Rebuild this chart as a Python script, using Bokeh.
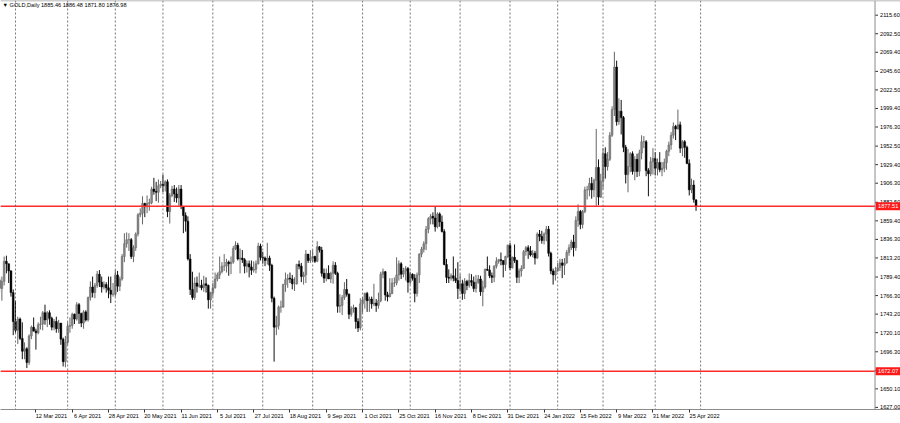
import numpy as np
import pandas as pd
from bokeh.plotting import figure
from bokeh.models import Range1d, FixedTicker, Span, Label, ColumnDataSource
from bokeh.core.properties import value
from bokeh.embed import file_html
from bokeh.resources import INLINE

# ---------------- data (GOLD, Daily) ----------------
# Feb 2021 (from 18 Feb)
o_feb21 = [1786, 1775, 1784, 1809, 1806, 1797, 1770]
h_feb21 = [1789, 1790, 1815, 1816, 1806, 1798, 1774]
l_feb21 = [1770, 1760, 1779, 1794, 1782, 1765, 1717]
c_feb21 = [1775, 1784, 1809, 1806, 1797, 1770, 1734]
# Mar 2021
o_mar21 = [1734, 1723, 1737, 1713, 1697, 1700, 1683, 1716, 1727, 1722, 1720, 1730, 1731, 1745, 1736, 1745, 1738, 1727, 1734, 1725, 1732, 1712, 1684]
h_mar21 = [1760, 1740, 1739, 1733, 1708, 1702, 1718, 1729, 1739, 1725, 1733, 1740, 1747, 1755, 1747, 1748, 1740, 1737, 1740, 1736, 1732, 1714, 1716]
l_mar21 = [1720, 1706, 1711, 1687, 1687, 1676, 1680, 1712, 1722, 1699, 1718, 1724, 1723, 1730, 1727, 1730, 1723, 1723, 1720, 1720, 1705, 1678, 1677]
c_mar21 = [1723, 1737, 1713, 1697, 1700, 1683, 1716, 1727, 1722, 1720, 1730, 1731, 1745, 1736, 1745, 1738, 1727, 1734, 1725, 1732, 1712, 1684, 1708]
# Apr 2021
o_apr21 = [1708, 1728, 1729, 1743, 1737, 1755, 1744, 1732, 1746, 1736, 1764, 1777, 1770, 1779, 1793, 1783, 1777, 1780, 1776, 1773, 1768]
h_apr21 = [1733, 1739, 1745, 1744, 1758, 1757, 1745, 1748, 1748, 1765, 1784, 1790, 1782, 1797, 1798, 1790, 1784, 1783, 1790, 1790, 1782]
l_apr21 = [1705, 1720, 1725, 1731, 1735, 1731, 1727, 1725, 1734, 1734, 1760, 1764, 1763, 1776, 1777, 1770, 1774, 1770, 1763, 1757, 1765]
c_apr21 = [1728, 1729, 1743, 1737, 1755, 1744, 1732, 1746, 1736, 1764, 1777, 1770, 1779, 1793, 1783, 1777, 1780, 1776, 1773, 1768, 1768]
# May 2021
o_may21 = [1768, 1792, 1778, 1787, 1815, 1831, 1836, 1836, 1815, 1826, 1843, 1867, 1869, 1881, 1877, 1881, 1882, 1899, 1896, 1895, 1903]
h_may21 = [1798, 1797, 1790, 1818, 1844, 1845, 1844, 1838, 1829, 1845, 1869, 1875, 1890, 1882, 1891, 1887, 1902, 1913, 1908, 1911, 1909]
l_may21 = [1765, 1771, 1772, 1785, 1808, 1826, 1822, 1812, 1808, 1822, 1840, 1864, 1855, 1864, 1869, 1872, 1880, 1892, 1884, 1882, 1900]
c_may21 = [1792, 1778, 1787, 1815, 1831, 1836, 1836, 1815, 1826, 1843, 1867, 1869, 1881, 1877, 1881, 1882, 1899, 1896, 1895, 1903, 1905]
# Jun 2021
o_jun21 = [1905, 1903, 1908, 1871, 1891, 1899, 1893, 1888, 1899, 1877, 1866, 1859, 1812, 1774, 1764, 1782, 1778, 1779, 1776, 1781, 1779, 1761]
h_jun21 = [1917, 1910, 1911, 1894, 1903, 1904, 1901, 1904, 1904, 1878, 1870, 1865, 1818, 1796, 1789, 1790, 1795, 1786, 1791, 1789, 1780, 1771]
l_jun21 = [1895, 1896, 1864, 1856, 1889, 1883, 1882, 1878, 1874, 1844, 1846, 1810, 1767, 1761, 1761, 1770, 1776, 1773, 1771, 1770, 1750, 1750]
c_jun21 = [1903, 1908, 1871, 1891, 1899, 1893, 1888, 1899, 1877, 1866, 1859, 1812, 1774, 1764, 1782, 1778, 1779, 1776, 1781, 1779, 1761, 1770]
# Jul 2021
o_jul21 = [1770, 1776, 1787, 1792, 1796, 1803, 1803, 1808, 1806, 1808, 1825, 1829, 1812, 1813, 1811, 1803, 1806, 1802, 1798, 1799, 1806, 1828]
h_jul21 = [1782, 1795, 1795, 1815, 1808, 1818, 1812, 1810, 1815, 1828, 1834, 1832, 1825, 1823, 1813, 1810, 1810, 1810, 1809, 1810, 1832, 1831]
l_jul21 = [1765, 1775, 1784, 1787, 1794, 1797, 1795, 1791, 1793, 1806, 1823, 1810, 1794, 1807, 1794, 1795, 1789, 1792, 1795, 1794, 1805, 1810]
c_jul21 = [1776, 1787, 1792, 1796, 1803, 1803, 1808, 1806, 1808, 1825, 1829, 1812, 1813, 1811, 1803, 1806, 1802, 1798, 1799, 1806, 1828, 1814]
# Aug 2021
o_aug21 = [1814, 1813, 1810, 1813, 1804, 1763, 1727, 1729, 1752, 1752, 1780, 1786, 1788, 1787, 1781, 1781, 1805, 1803, 1790, 1792, 1818, 1810]
h_aug21 = [1821, 1815, 1832, 1816, 1806, 1765, 1741, 1754, 1760, 1781, 1795, 1793, 1795, 1792, 1789, 1806, 1810, 1807, 1796, 1823, 1818, 1823]
l_aug21 = [1806, 1803, 1805, 1797, 1758, 1684, 1717, 1724, 1745, 1751, 1771, 1776, 1782, 1774, 1772, 1780, 1799, 1783, 1780, 1782, 1807, 1807]
c_aug21 = [1813, 1810, 1813, 1804, 1763, 1727, 1729, 1752, 1752, 1780, 1786, 1788, 1787, 1781, 1781, 1805, 1803, 1790, 1792, 1818, 1810, 1813]
# Sep 2021
o_sep21 = [1813, 1815, 1809, 1827, 1823, 1794, 1788, 1794, 1787, 1794, 1804, 1794, 1753, 1754, 1764, 1774, 1768, 1743, 1750, 1751, 1734, 1726]
h_sep21 = [1823, 1816, 1834, 1828, 1827, 1800, 1800, 1804, 1796, 1809, 1808, 1796, 1768, 1767, 1783, 1787, 1769, 1753, 1755, 1752, 1738, 1763]
l_sep21 = [1808, 1807, 1808, 1820, 1790, 1782, 1784, 1787, 1782, 1781, 1792, 1745, 1745, 1742, 1761, 1765, 1737, 1740, 1745, 1725, 1721, 1723]
c_sep21 = [1815, 1809, 1827, 1823, 1794, 1788, 1794, 1787, 1794, 1804, 1794, 1753, 1754, 1764, 1774, 1768, 1743, 1750, 1751, 1734, 1726, 1756]
# Oct 2021
o_oct21 = [1756, 1761, 1769, 1760, 1762, 1756, 1757, 1754, 1760, 1793, 1796, 1767, 1765, 1769, 1782, 1782, 1792, 1806, 1793, 1797, 1800]
h_oct21 = [1764, 1770, 1771, 1765, 1765, 1781, 1762, 1770, 1796, 1800, 1797, 1771, 1788, 1788, 1789, 1814, 1810, 1808, 1801, 1803, 1802]
l_oct21 = [1745, 1750, 1746, 1746, 1750, 1753, 1746, 1750, 1758, 1788, 1760, 1759, 1764, 1768, 1777, 1779, 1785, 1787, 1789, 1785, 1770]
c_oct21 = [1761, 1769, 1760, 1762, 1756, 1757, 1754, 1760, 1793, 1796, 1767, 1765, 1769, 1782, 1782, 1792, 1806, 1793, 1797, 1800, 1783]
# Nov 2021
o_nov21 = [1783, 1793, 1788, 1769, 1792, 1818, 1824, 1831, 1849, 1862, 1865, 1863, 1852, 1868, 1858, 1846, 1805, 1789, 1788, 1791, 1788, 1785]
h_nov21 = [1796, 1794, 1793, 1795, 1819, 1827, 1834, 1853, 1864, 1868, 1870, 1877, 1870, 1870, 1866, 1849, 1812, 1799, 1794, 1815, 1800, 1808]
l_nov21 = [1780, 1785, 1758, 1765, 1782, 1814, 1820, 1823, 1844, 1855, 1855, 1846, 1850, 1852, 1845, 1804, 1782, 1782, 1785, 1784, 1782, 1762]
c_nov21 = [1793, 1788, 1769, 1792, 1818, 1824, 1831, 1849, 1862, 1865, 1863, 1852, 1868, 1858, 1846, 1805, 1789, 1788, 1791, 1788, 1785, 1775]
# Dec 2021
o_dec21 = [1775, 1781, 1769, 1784, 1779, 1785, 1783, 1775, 1783, 1787, 1771, 1777, 1799, 1798, 1791, 1789, 1803, 1809, 1811, 1810, 1805, 1815]
h_dec21 = [1793, 1786, 1788, 1786, 1794, 1793, 1790, 1792, 1792, 1791, 1785, 1800, 1815, 1804, 1795, 1804, 1814, 1812, 1820, 1810, 1816, 1830]
l_dec21 = [1771, 1761, 1762, 1773, 1776, 1778, 1771, 1770, 1781, 1766, 1753, 1775, 1797, 1788, 1782, 1783, 1800, 1806, 1804, 1789, 1797, 1813]
c_dec21 = [1781, 1769, 1784, 1779, 1785, 1783, 1775, 1783, 1787, 1771, 1777, 1799, 1798, 1791, 1789, 1803, 1809, 1811, 1810, 1805, 1815, 1829]
# Jan 2022
o_jan22 = [1829, 1801, 1814, 1810, 1789, 1797, 1800, 1821, 1826, 1822, 1817, 1819, 1813, 1843, 1840, 1835, 1843, 1849, 1819, 1797, 1792]
h_jan22 = [1832, 1815, 1830, 1811, 1800, 1804, 1823, 1828, 1829, 1828, 1823, 1822, 1845, 1848, 1847, 1845, 1853, 1853, 1821, 1800, 1802]
l_jan22 = [1798, 1800, 1807, 1782, 1782, 1790, 1800, 1816, 1812, 1815, 1814, 1805, 1812, 1834, 1831, 1830, 1834, 1815, 1793, 1780, 1785]
c_jan22 = [1801, 1814, 1810, 1789, 1797, 1800, 1821, 1826, 1822, 1817, 1819, 1813, 1843, 1840, 1835, 1843, 1849, 1819, 1797, 1792, 1797]
# Feb 2022
o_feb22 = [1797, 1801, 1807, 1804, 1807, 1820, 1826, 1833, 1826, 1860, 1871, 1855, 1871, 1898, 1898, 1906, 1898, 1910, 1926, 1889]
h_feb22 = [1807, 1812, 1812, 1813, 1823, 1830, 1836, 1842, 1865, 1880, 1873, 1873, 1902, 1903, 1913, 1914, 1912, 1974, 1936, 1918]
l_feb22 = [1796, 1797, 1788, 1792, 1806, 1816, 1823, 1815, 1822, 1852, 1849, 1850, 1869, 1886, 1890, 1887, 1889, 1878, 1879, 1888]
c_feb22 = [1801, 1807, 1804, 1807, 1820, 1826, 1833, 1826, 1860, 1871, 1855, 1871, 1898, 1898, 1906, 1898, 1910, 1926, 1889, 1909]
# Mar 2022
o_mar22 = [1909, 1943, 1927, 1936, 1966, 1998, 2051, 1983, 1996, 1988, 1951, 1917, 1927, 1943, 1921, 1936, 1921, 1944, 1958, 1958, 1922, 1918, 1933]
h_mar22 = [1950, 1951, 1945, 1970, 2002, 2070, 2059, 2012, 2010, 1990, 1954, 1949, 1945, 1946, 1940, 1943, 1948, 1966, 1965, 1960, 1925, 1939, 1950]
l_mar22 = [1899, 1912, 1922, 1934, 1964, 1990, 1978, 1979, 1967, 1945, 1906, 1895, 1920, 1917, 1910, 1914, 1915, 1936, 1950, 1915, 1890, 1915, 1917]
c_mar22 = [1943, 1927, 1936, 1966, 1998, 2051, 1983, 1996, 1988, 1951, 1917, 1927, 1943, 1921, 1936, 1921, 1944, 1958, 1958, 1922, 1918, 1933, 1937]
# Apr 2022 (to 28 Apr)
o_apr22 = [1937, 1925, 1932, 1923, 1925, 1932, 1946, 1954, 1966, 1977, 1974, 1979, 1950, 1958, 1951, 1931, 1898, 1904, 1885.46]
h_apr22 = [1945, 1937, 1945, 1933, 1937, 1948, 1958, 1970, 1982, 1979, 1998, 1983, 1960, 1960, 1953, 1936, 1912, 1910, 1886.48]
l_apr22 = [1916, 1916, 1920, 1915, 1920, 1923, 1940, 1948, 1962, 1960, 1973, 1944, 1940, 1938, 1930, 1891, 1894, 1882, 1871.80]
c_apr22 = [1925, 1932, 1923, 1925, 1932, 1946, 1954, 1966, 1977, 1974, 1979, 1950, 1958, 1951, 1931, 1898, 1904, 1886, 1876.98]

opens = sum([o_feb21, o_mar21, o_apr21, o_may21, o_jun21, o_jul21, o_aug21, o_sep21, o_oct21,
             o_nov21, o_dec21, o_jan22, o_feb22, o_mar22, o_apr22], [])
highs = sum([h_feb21, h_mar21, h_apr21, h_may21, h_jun21, h_jul21, h_aug21, h_sep21, h_oct21,
             h_nov21, h_dec21, h_jan22, h_feb22, h_mar22, h_apr22], [])
lows = sum([l_feb21, l_mar21, l_apr21, l_may21, l_jun21, l_jul21, l_aug21, l_sep21, l_oct21,
            l_nov21, l_dec21, l_jan22, l_feb22, l_mar22, l_apr22], [])
closes = sum([c_feb21, c_mar21, c_apr21, c_may21, c_jun21, c_jul21, c_aug21, c_sep21, c_oct21,
              c_nov21, c_dec21, c_jan22, c_feb22, c_mar22, c_apr22], [])

level_hi = 1877.51
level_lo = 1672.07
header = "\u25BC GOLD,Daily  1885.46 1886.48 1871.80 1876.98"
y_ticks = [2115.60, 2092.50, 2069.40, 2045.60, 2022.50, 1999.40, 1976.30, 1952.50, 1929.40,
           1906.30, 1882.50, 1859.40, 1836.30, 1813.20, 1789.40, 1766.30, 1743.20, 1720.10,
           1696.30, 1673.20, 1650.10, 1627.00]

# trading calendar (no bars on these days)
no_bar_days = pd.to_datetime(["2021-04-02", "2021-12-24", "2022-04-15"])
cal = pd.bdate_range("2021-02-18", "2022-05-02")
cal = cal[~cal.isin(no_bar_days)]

n = len(closes)
assert len(opens) == n and len(highs) == n and len(lows) == n, (len(opens), len(highs), len(lows), n)

idx = np.arange(n)
o = np.array(opens, float); h = np.array(highs, float)
l = np.array(lows, float); c = np.array(closes, float)
up = c >= o

# ---------------- layout ----------------
FONT = "Liberation Sans"
FS = "5.6px"
W, H = 900, 423
XS, XB, XE = 0.39, 385.9, 397.13   # left edge / price-scale border / right edge (bar units)
PPB = W / (XE - XS)                # px per bar
COL = (XE - XB) * PPB              # price-scale column width in px
YS, YE = 1624.4, 2133.9

p = figure(width=W, height=H, x_range=Range1d(XS, XE), y_range=Range1d(YS, YE),
           output_backend="svg", toolbar_location=None,
           min_border_left=0, min_border_top=0, min_border_right=0, min_border_bottom=14)
p.background_fill_color = "white"
p.border_fill_color = "white"
p.outline_line_color = None
p.xgrid.visible = False
p.ygrid.visible = False
p.yaxis.visible = False

# month separators (vertical dotted grid)
month_starts = [i for i in range(1, len(cal)) if cal[i].month != cal[i - 1].month]
for i in month_starts:
    p.add_layout(Span(location=i, dimension="height", line_color="#555555",
                      line_width=0.8, line_dash="2 2"))

# candles
su = ColumnDataSource(dict(x=idx[up], hi=h[up], lo=l[up], top=np.maximum(o, c)[up], bot=np.minimum(o, c)[up]))
sd = ColumnDataSource(dict(x=idx[~up], hi=h[~up], lo=l[~up], top=np.maximum(o, c)[~up], bot=np.minimum(o, c)[~up]))
p.segment(x0="x", y0="hi", x1="x", y1="lo", source=su, line_color="#666666", line_width=1)
p.segment(x0="x", y0="hi", x1="x", y1="lo", source=sd, line_color="#111111", line_width=1)
p.vbar(x="x", width=0.8, top="top", bottom="bot", source=su,
       fill_color="#858585", line_color="#6a6a6a", line_width=0.5)
p.vbar(x="x", width=0.8, top="top", bottom="bot", source=sd,
       fill_color="#000000", line_color="#000000", line_width=0.5)

# horizontal levels (stop at the price-scale border)
p.segment(x0=[XS, XS], y0=[level_hi, level_lo], x1=[XB, XB], y1=[level_hi, level_lo],
          line_color="#ff2a2a", line_width=1.6)

# borders
p.add_layout(Span(location=XB, dimension="height", line_color="#8c8c8c", line_width=1))
p.add_layout(Span(location=YE, dimension="width", line_color="#a0a0a0", line_width=1.5))

# price scale (right column)
p.segment(x0=[XB] * len(y_ticks), y0=y_ticks, x1=[XB + 3 / PPB] * len(y_ticks), y1=y_ticks,
          line_color="#333333", line_width=1)
p.text(x=[XB] * len(y_ticks), y=y_ticks, text=["%.2f" % v for v in y_ticks], x_offset=5,
       text_font=value(FONT), text_font_size=FS, text_color="#000000",
       text_baseline="middle", text_align="left")

# red price tags
tags = [level_hi, level_lo]
p.rect(x=[XB + (COL / 2 + 0.5) / PPB] * 2, y=tags, width=COL, height=8,
       width_units="screen", height_units="screen", fill_color="#ff1a1a", line_color=None)
p.text(x=[XB] * 2, y=tags, text=["%.2f" % v for v in tags], x_offset=3,
       text_font=value(FONT), text_font_size=FS, text_color="white",
       text_baseline="middle", text_align="left")

# date scale (bottom axis), labels start just right of their tick
label_idx = list(range(0, n, 16))
NB = "\u00a0"
xax = p.xaxis[0]
xax.ticker = FixedTicker(ticks=label_idx)
xax.major_label_overrides = {i: NB * 20 + "%d %s" % (cal[i].day, cal[i].strftime("%b %Y")) for i in label_idx}
xax.major_tick_out = 3
xax.major_tick_in = 0
xax.minor_tick_out = 0
xax.minor_tick_in = 0
xax.major_label_standoff = 0
xax.axis_line_color = "#8c8c8c"
xax.major_tick_line_color = "#333333"
xax.major_label_text_font = FONT
xax.major_label_text_font_size = FS
xax.major_label_text_color = "#000000"

p.add_layout(Label(x=XS, y=YE, x_offset=2, y_offset=-1, text=header, text_font=FONT,
                   text_font_size=FS, text_color="#000000", text_baseline="top",
                   text_align="left"))

open("out.html", "w").write(file_html(p, INLINE))
